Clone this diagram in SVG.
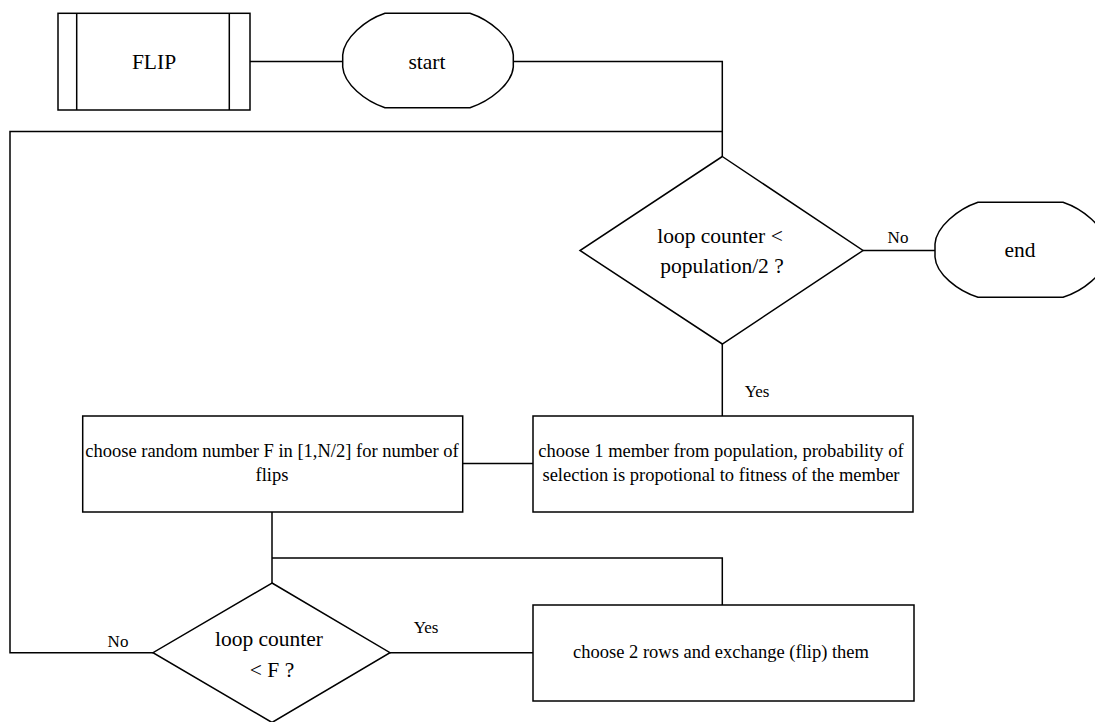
<svg xmlns="http://www.w3.org/2000/svg" width="1095" height="722" viewBox="0 0 1095 722">
<style>
.s{fill:#fff;stroke:#000;stroke-width:1.5}
.c{fill:none;stroke:#000;stroke-width:1.5}
.t{font-family:"Liberation Serif","Times New Roman",serif;fill:#000;text-anchor:middle}
.big{font-size:21.5px}
.mid{font-size:18.5px}
.lbl{font-size:17px}
</style>
<rect width="1095" height="722" fill="#fff"/>
<g id="connectors">
<path class="c" d="M250,61.5 H343"/>
<path class="c" d="M513,61.5 H722.3 V156.5"/>
<path class="c" d="M722.3,131.5 H10 V652.7 H153"/>
<path class="c" d="M863,250.5 H935"/>
<path class="c" d="M722.3,344 V416"/>
<path class="c" d="M533,463.5 H462.7"/>
<path class="c" d="M272,512 V583"/>
<path class="c" d="M272,558 H722.3 V605"/>
<path class="c" d="M390,652.7 H533"/>
<text class="t lbl" x="898" y="243">No</text>
<text class="t lbl" x="757" y="397">Yes</text>
<text class="t lbl" x="118" y="647">No</text>
<text class="t lbl" x="426" y="633">Yes</text>
</g>
<g id="flip">
<rect class="s" x="58" y="13.3" width="192" height="96.7"/>
<path class="c" d="M76.7,13.3 V110 M229.3,13.3 V110"/>
<text class="t big" x="154" y="69">FLIP</text>
</g>
<g id="start">
<path class="s" d="M385,13.3 H470 C490,20 512,38 513.3,55 V67 C512,84 490,101 470,107.7 H385 C365,101 344,84 342.7,67 V55 C344,38 365,20 385,13.3 Z"/>
<text class="t big" x="427" y="69">start</text>
</g>
<g id="decision1">
<polygon class="s" points="722.3,156.5 863,250.5 722.3,344 580,250.5"/>
<text class="t big" x="720" y="243">loop counter &lt;</text>
<text class="t big" x="722" y="273">population/2 ?</text>
</g>
<g id="end">
<path class="s" d="M978,202.3 H1063 C1083,209 1105,227 1106,244 V257 C1105,274 1083,291 1063,297.3 H978 C958,291 936,274 935,257 V244 C936,227 958,209 978,202.3 Z"/>
<text class="t big" x="1020" y="257">end</text>
</g>
<g id="choose-member">
<rect class="s" x="533" y="416" width="380" height="96"/>
<text class="t mid" x="721" y="457">choose 1 member from population, probability of</text>
<text class="t mid" x="721" y="481">selection is propotional to fitness of the member</text>
</g>
<g id="choose-random">
<rect class="s" x="82.7" y="416" width="380" height="96"/>
<text class="t mid" x="272" y="457">choose random number F in [1,N/2] for number of</text>
<text class="t mid" x="272" y="481">flips</text>
</g>
<g id="decision2">
<polygon class="s" points="272,583 390,652.7 272,722.5 153,652.7"/>
<text class="t big" x="269" y="646">loop counter</text>
<text class="t big" x="272" y="677">&lt; F ?</text>
</g>
<g id="flip-rows">
<rect class="s" x="533" y="605" width="381" height="96"/>
<text class="t mid" x="721" y="658">choose 2 rows and exchange (flip) them</text>
</g>
</svg>
